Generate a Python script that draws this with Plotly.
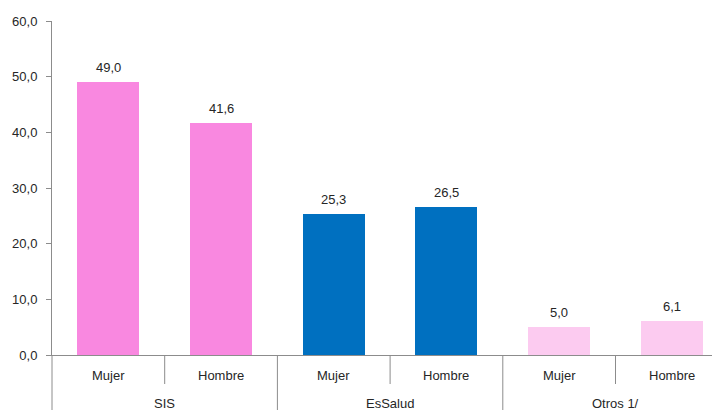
import plotly.graph_objects as go

groups = ["SIS", "EsSalud", "Otros 1/"]
subcats = ["Mujer", "Hombre"]
values = {
    "SIS": [49.0, 41.6],
    "EsSalud": [25.3, 26.5],
    "Otros 1/": [5.0, 6.1],
}
colors = {"SIS": "#F988E0", "EsSalud": "#0070C0", "Otros 1/": "#FCCBF0"}
y_ticks = [0, 10, 20, 30, 40, 50, 60]

FONT = "Liberation Sans, Arial, sans-serif"
FS = 13
TXT = "#262626"
GRID = "#8C8C8C"

# page body has an 8px margin: compensate so the chart lands where the reference has it
W, H = 712, 402
ML, MT, MB = 44, 13, 55
plot_h = H - MT - MB

fig = go.Figure()
n_sub = len(subcats)
annotations = []
shapes = []
for gi, g in enumerate(groups):
    xs = [gi * n_sub + j for j in range(n_sub)]
    fig.add_trace(go.Bar(
        x=xs, y=values[g], width=0.55,
        marker=dict(color=colors[g], line=dict(width=0)),
        hoverinfo="skip", showlegend=False,
    ))
    for xi, v in zip(xs, values[g]):
        annotations.append(dict(x=xi, y=v, xref="x", yref="y",
                                text=f"{v:.1f}".replace(".", ","),
                                showarrow=False, yanchor="middle", yshift=15,
                                font=dict(family=FONT, size=FS, color=TXT)))

total = len(groups) * n_sub
for gi, g in enumerate(groups):
    for j, s in enumerate(subcats):
        xi = gi * n_sub + j
        annotations.append(dict(x=xi, y=0, xref="x", yref="paper", text=s,
                                showarrow=False, yanchor="middle", yshift=-20,
                                font=dict(family=FONT, size=FS, color=TXT)))
        if j < n_sub - 1:
            shapes.append(dict(type="line", xref="x", yref="paper",
                               x0=xi + 0.5, x1=xi + 0.5, y0=0, y1=-29 / plot_h,
                               line=dict(color=GRID, width=1)))
    annotations.append(dict(x=gi * n_sub + (n_sub - 1) / 2, y=0, xref="x", yref="paper",
                            text=g, showarrow=False, yanchor="middle", yshift=-48,
                            font=dict(family=FONT, size=FS, color=TXT)))
    if gi > 0:
        shapes.append(dict(type="line", xref="x", yref="paper",
                           x0=gi * n_sub - 0.5, x1=gi * n_sub - 0.5, y0=0, y1=-MB / plot_h,
                           line=dict(color=GRID, width=1)))
# y-axis extension downward
shapes.append(dict(type="line", xref="paper", yref="paper", x0=0, x1=0, y0=0, y1=-MB / plot_h,
                   line=dict(color=GRID, width=1)))

slot_px = 112.7
fig.update_layout(
    width=W, height=H,
    margin=dict(l=ML, r=0, t=MT, b=MB, pad=0),
    paper_bgcolor="white", plot_bgcolor="white",
    separators=",.",
    bargap=0,
    annotations=annotations, shapes=shapes,
    xaxis=dict(range=[-0.5, -0.5 + (W - ML) / slot_px], showticklabels=False,
               showgrid=False, zeroline=False, showline=True, linecolor=GRID,
               linewidth=1, ticks=""),
    yaxis=dict(range=[0, 60], tickvals=y_ticks, tickformat=".1f",
               showgrid=False, zeroline=False, showline=True, linecolor=GRID,
               linewidth=1, ticks="outside", ticklen=5, tickcolor=GRID,
               ticklabelstandoff=6,
               tickfont=dict(family=FONT, size=FS, color=TXT)),
)

fig.write_html("out.html")
